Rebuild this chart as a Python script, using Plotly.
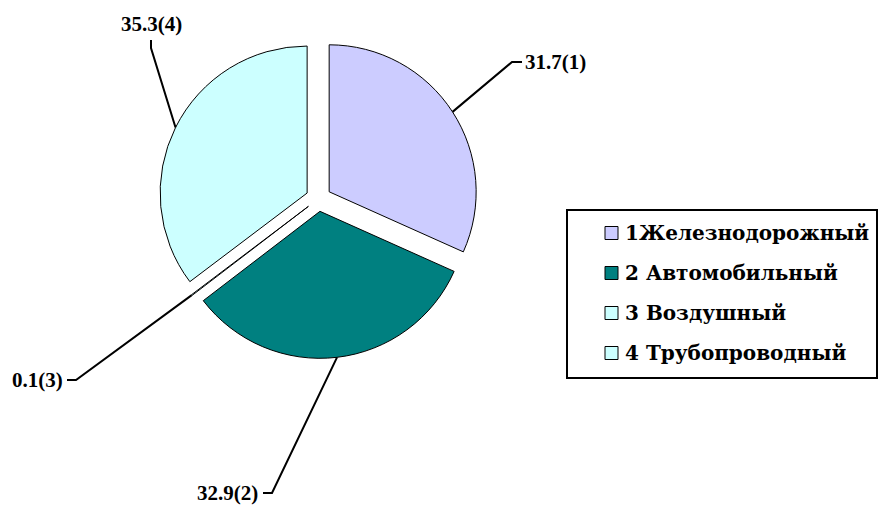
import math
import plotly.graph_objects as go

# ---- data ----
categories = ["1Железнодорожный", "2 Автомобильный", "3 Воздушный", "4 Трубопроводный"]
values = [31.7, 32.9, 0.1, 35.3]
slice_numbers = [1, 2, 3, 4]
colors = ["#CCCCFF", "#008080", "#CCFFFF", "#CCFFFF"]

# ---- layout config ----
W, H = 894, 506
OFF = 8  # page body margin
PULL = 0.0864
DOM_X = [(158.8 - OFF) / W, (478.2 - OFF) / W]
DOM_Y = [1 - (358.4 - OFF) / H, 1 - (39.0 - OFF) / H]
# hand-placed label elbows (pixels), tick end, text anchor
label_cfg = [
    dict(elbow=(512, 62), tick=(522, 62), text=(523, 62), xa="left", ya="middle"),
    dict(elbow=(272, 493), tick=(263, 493), text=(260, 493), xa="right", ya="middle"),
    dict(elbow=(76, 380), tick=(67, 380), text=(65, 380), xa="right", ya="middle"),
    dict(elbow=(151, 48), tick=(151, 40), text=(151, 38), xa="center", ya="bottom"),
]


def px2paper(x, y):
    return (x - OFF) / W, 1 - (y - OFF) / H


fig = go.Figure(go.Pie(
    labels=categories, values=values, sort=False, direction="clockwise",
    rotation=0, pull=[PULL] * len(values),
    marker=dict(colors=colors, line=dict(color="black", width=1)),
    textinfo="none", hoverinfo="label+value", showlegend=False,
    domain=dict(x=DOM_X, y=DOM_Y),
))

# pie geometry (as plotly computes it), in page pixels
bw = W * (DOM_X[1] - DOM_X[0]) / 2
bh = H * (DOM_Y[1] - DOM_Y[0]) / 2
r = min(bw, bh) / (1 + PULL)
cx = W * (DOM_X[0] + DOM_X[1]) / 2 + OFF
cy = H * (1 - (DOM_Y[0] + DOM_Y[1]) / 2) + OFF

total = sum(values)
shapes = []
annotations = []
cum = 0
for v, n, cfg in zip(values, slice_numbers, label_cfg):
    mid = (cum + v / 2) / total * 2 * math.pi
    cum += v
    dx, dy = math.sin(mid), -math.cos(mid)
    ax = cx + dx * r * (1 + PULL)
    ay = cy + dy * r * (1 + PULL)
    pts = [(ax, ay), cfg["elbow"], cfg["tick"]]
    path = "M " + " L ".join("%f,%f" % px2paper(*p) for p in pts)
    shapes.append(dict(type="path", xref="paper", yref="paper", path=path,
                       line=dict(color="black", width=2)))
    tx, ty = px2paper(*cfg["text"])
    annotations.append(dict(
        x=tx, y=ty, xref="paper", yref="paper", showarrow=False,
        text=f"{v}({n})", xanchor=cfg["xa"], yanchor=cfg["ya"],
        font=dict(family="Liberation Serif", size=21, color="black", weight="bold"),
    ))

# legend (drawn manually)
box = (567, 210, 877, 378)
x0, y0 = px2paper(box[0], box[1])
x1, y1 = px2paper(box[2], box[3])
shapes.append(dict(type="rect", xref="paper", yref="paper", x0=x0, y0=y1, x1=x1, y1=y0,
                   line=dict(color="black", width=2), fillcolor="rgba(0,0,0,0)"))
row_y = [233, 273, 313, 353]
for cat, col, ry in zip(categories, colors, row_y):
    sx0, sy0 = px2paper(605, ry - 6.5)
    sx1, sy1 = px2paper(618, ry + 6.5)
    shapes.append(dict(type="rect", xref="paper", yref="paper", x0=sx0, y0=sy1, x1=sx1, y1=sy0,
                       line=dict(color="black", width=1), fillcolor=col))
    tx, ty = px2paper(623, ry)
    annotations.append(dict(
        x=tx, y=ty, xref="paper", yref="paper", showarrow=False, text=cat,
        xanchor="left", yanchor="middle",
        font=dict(family="DejaVu Serif", size=20, color="black", weight="bold"),
    ))

fig.update_layout(
    width=W, height=H, margin=dict(l=0, r=0, t=0, b=0),
    paper_bgcolor="white", plot_bgcolor="white",
    shapes=shapes, annotations=annotations,
)
fig.write_html("out.html")
